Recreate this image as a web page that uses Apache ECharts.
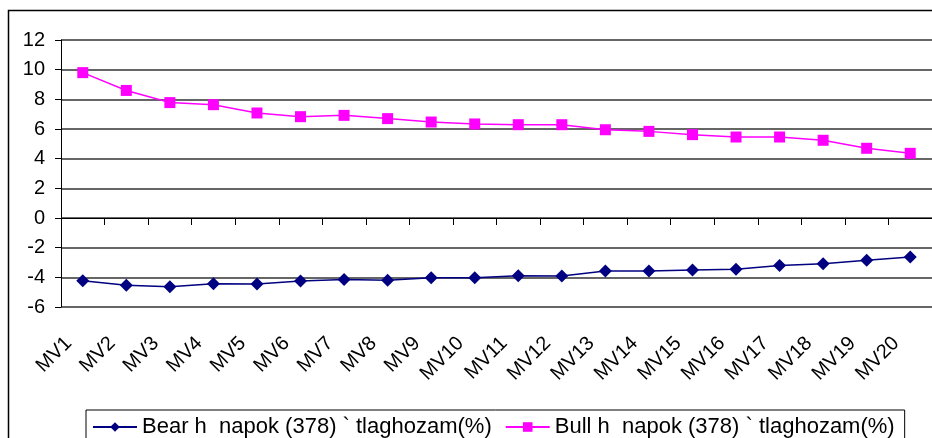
<!DOCTYPE html>
<html>
<head>
<meta charset="utf-8">
<script src="https://cdn.jsdelivr.net/npm/echarts@6/dist/echarts.min.js"></script>
<style>html,body{margin:0;padding:0;background:#fff;}#c{width:932px;height:438px;}</style>
</head>
<body>
<div id="c"></div>
<script>
var categories = ['MV1','MV2','MV3','MV4','MV5','MV6','MV7','MV8','MV9','MV10','MV11','MV12','MV13','MV14','MV15','MV16','MV17','MV18','MV19','MV20'];
var bearName = 'Bear h  napok (378) ` tlaghozam(%)';
var bullName = 'Bull h  napok (378) ` tlaghozam(%)';
var bearValues = [-4.23,-4.54,-4.63,-4.43,-4.45,-4.25,-4.14,-4.2,-4.02,-4.02,-3.89,-3.91,-3.57,-3.57,-3.51,-3.46,-3.21,-3.08,-2.85,-2.63];
var bullValues = [9.8,8.6,7.78,7.64,7.08,6.83,6.92,6.7,6.47,6.34,6.29,6.29,5.95,5.84,5.62,5.46,5.46,5.24,4.7,4.36];
var yMin = -6, yMax = 12, yStep = 2;

var chart = echarts.init(document.getElementById('c'), null, {renderer: 'canvas'});
var font = 'Liberation Sans';
chart.setOption({
  animation: false,
  backgroundColor: '#fff',
  textStyle: {fontFamily: font},
  graphic: [{
    type: 'rect', z: -1, silent: true,
    shape: {x: 8.5, y: 10.5, width: 940, height: 440},
    style: {fill: 'none', stroke: '#000', lineWidth: 1.5}
  }],
  grid: {left: 61, top: 40, width: 876, height: 267},
  legend: {
    left: 86, top: 410,
    padding: [5, 10, 30, 6],
    borderColor: '#000', borderWidth: 1,
    itemWidth: 44, itemHeight: 12, itemGap: 13,
    textStyle: {fontFamily: font, fontSize: 22, color: '#000', lineHeight: 24},
    data: [bearName, bullName]
  },
  xAxis: {
    type: 'category', data: categories, boundaryGap: true,
    axisLine: {lineStyle: {color: '#000', width: 1}},
    axisTick: {show: true, length: 7, lineStyle: {color: '#000'}},
    axisLabel: {
      rotate: 45, interval: 0, fontSize: 20, color: '#000', fontFamily: font,
      margin: 19, padding: [0, 20, 0, 0]
    },
    splitLine: {show: false}
  },
  yAxis: {
    type: 'value', min: yMin, max: yMax, interval: yStep,
    axisLine: {show: true, lineStyle: {color: '#000', width: 1}},
    axisTick: {show: true, length: 6, lineStyle: {color: '#000'}},
    axisLabel: {fontSize: 20, color: '#000', fontFamily: font, margin: 16},
    splitLine: {show: true, lineStyle: {color: '#333', width: 1.5}}
  },
  series: [
    {
      name: bearName, type: 'line', data: bearValues,
      symbol: 'diamond', symbolSize: 13,
      lineStyle: {color: '#000080', width: 1.5},
      itemStyle: {color: '#000080'}
    },
    {
      name: bullName, type: 'line', data: bullValues,
      symbol: 'rect', symbolSize: 11,
      lineStyle: {color: '#FF00FF', width: 1.5},
      itemStyle: {color: '#FF00FF'}
    }
  ]
});
</script>
</body>
</html>
